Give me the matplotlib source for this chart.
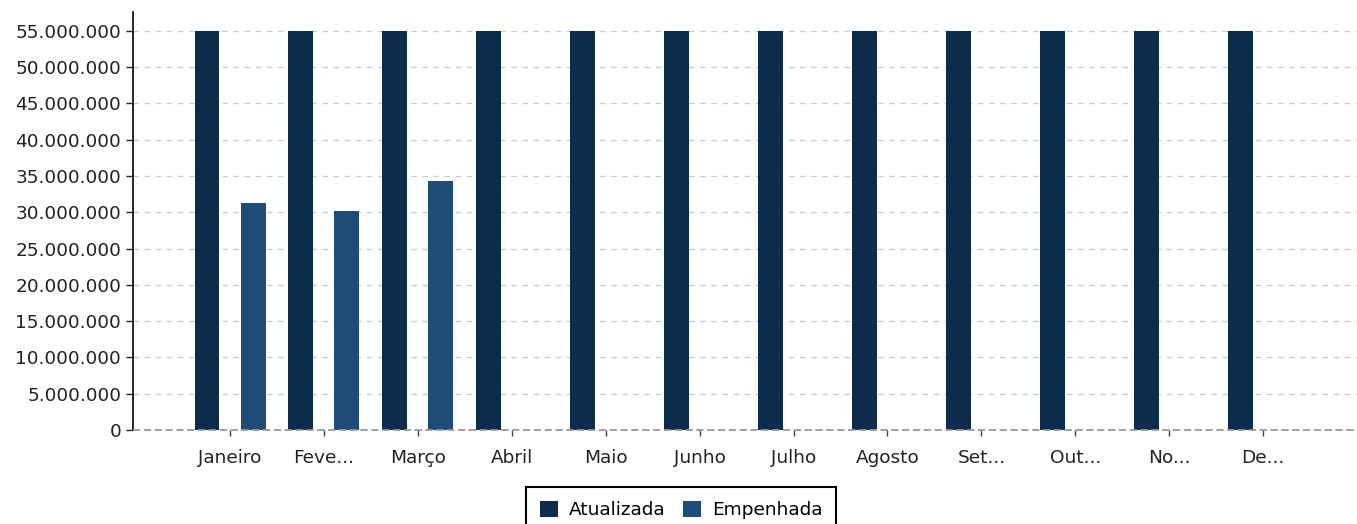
import matplotlib.pyplot as plt
import numpy as np
from matplotlib.ticker import FuncFormatter

# ----------- data ------------

meses = ['Janeiro', 'Feve...', 'Março', 'Abril', 'Maio', 'Junho', 'Julho',
         'Agosto', 'Set...', 'Out...', 'No...', 'De...']
atualizada = [55000000] * 12
empenhada = [31250000, 30230000, 34320000, 0, 0, 0, 0, 0, 0, 0, 0, 0]

# ----- styles -----

plt.rcParams['font.family'] = 'DejaVu Sans'
tick_font_size = 13.3
cor_atualizada = '#0b2c4d'
cor_empenhada = '#1e4d78'

f = plt.figure(figsize=(13.57, 5.24), dpi=100)
ax = f.add_axes([0.098, 0.1794, 0.902, 0.7977])

x = np.arange(len(meses))
largura = 0.266
desloc = 0.245

ax.bar(x - desloc, atualizada, largura, color=cor_atualizada, label='Atualizada', zorder=3)
ax.bar(x + desloc, empenhada, largura, color=cor_empenhada, label='Empenhada', zorder=3)

ax.set_xlim(-1.033, 12.0)
ax.set_ylim(0, 57600000)
ax.set_yticks(np.arange(0, 55000001, 5000000))
ax.yaxis.set_major_formatter(FuncFormatter(lambda v, p: f'{v:,.0f}'.replace(',', '.')))
ax.set_xticks(x)
ax.set_xticklabels(meses)

ax.grid(True, axis='y', color='#cccccc', linestyle=(0, (4, 4)), linewidth=1, zorder=0)
for s in ['top', 'right', 'bottom']:
    ax.spines[s].set_visible(False)
ax.spines['left'].set_linewidth(1.2)
ax.spines['left'].set_color('black')
ax.axhline(0, color='#9a9a9a', linestyle=(0, (4, 2)), linewidth=1.3, zorder=4, clip_on=False)

ax.tick_params(axis='y', labelsize=tick_font_size, length=5, width=1, colors='#222222')
ax.tick_params(axis='x', labelsize=tick_font_size, length=4, width=1, colors='#444444',
               labelcolor='#222222', pad=10)

f.legend(loc='upper center', bbox_to_anchor=(0.502, 0.071), ncol=2, fontsize=tick_font_size,
         frameon=True, fancybox=False, edgecolor='black', framealpha=1, borderaxespad=0,
         handlelength=1.0, handleheight=1.0, handletextpad=0.6, columnspacing=0.9,
         borderpad=0.75).get_frame().set_linewidth(1.5)

plt.savefig('out.png', dpi=100)
